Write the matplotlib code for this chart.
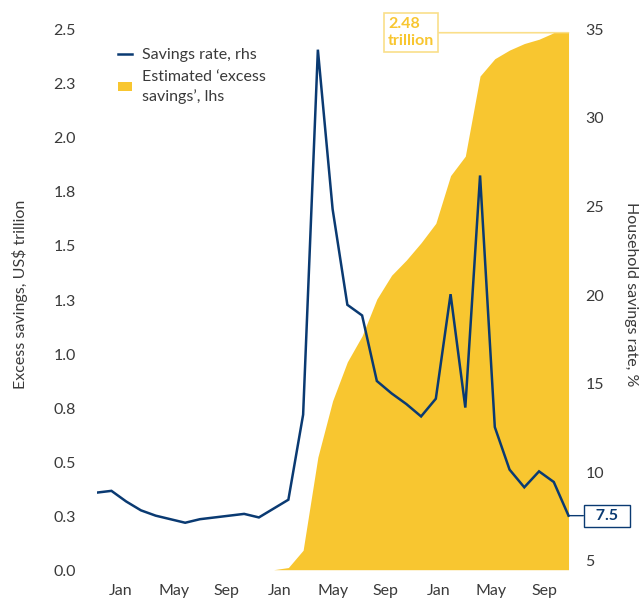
import numpy as np
import pandas as pd
import matplotlib
matplotlib.use("Agg")
import matplotlib.pyplot as plt
from matplotlib.lines import Line2D
from matplotlib.patches import Patch
from matplotlib.transforms import ScaledTranslation

plt.rcParams['font.family'] = ['Lato', 'DejaVu Sans']

# Monthly data, Jan 2019 - Sep 2021
months = pd.date_range("2019-01-01", "2021-09-01", freq="MS")

# Household savings rate, % (right axis)
savings_rate = [8.8, 8.9, 8.3, 7.8, 7.5, 7.3, 7.1, 7.3, 7.4, 7.5, 7.6, 7.4,
                7.9, 8.4, 13.2, 33.8, 24.8, 19.4, 18.8, 15.1, 14.4, 13.8, 13.1, 14.1,
                20.0, 13.6, 26.7, 12.5, 10.1, 9.1, 10.0, 9.4, 7.5]

# Estimated cumulative 'excess savings', US$ trillion (left axis), from Jan 2020
excess_start = "2020-01-01"
excess_savings = [0.0, 0.01, 0.09, 0.52, 0.78, 0.96, 1.08, 1.25, 1.36, 1.43, 1.51, 1.60,
                  1.82, 1.91, 2.28, 2.36, 2.40, 2.43, 2.45, 2.48, 2.48]

left_ticks = [0.0, 0.25, 0.5, 0.75, 1.0, 1.25, 1.5, 1.75, 2.0, 2.25, 2.5]
left_tick_labels = ["0.0", "0.3", "0.5", "0.8", "1.0", "1.3", "1.5", "1.8", "2.0", "2.3", "2.5"]
right_ticks = [5, 10, 15, 20, 25, 30, 35]
x_tick_labels = ["Jan", "May", "Sep", "Jan", "May", "Sep", "Jan", "May", "Sep"]

YELLOW = "#F8C630"
NAVY = "#0A3A72"
TEXT = "#3A3A3A"
FS = 11.5

x = np.arange(len(months))
x_ex = x[list(months).index(pd.Timestamp(excess_start)):]

fig = plt.figure(figsize=(6.42, 5.98), dpi=100)
W, H = 642, 598
ax = fig.add_axes([96.7 / W, 1 - 569.7 / H, (570.0 - 96.7) / W, (569.7 - 28.4) / H])
ax2 = ax.twinx()

# Excess savings area
ax.fill_between(x_ex, 0, excess_savings, color=YELLOW, lw=0, zorder=2)
ax.set_ylim(0, 2.5)
ax.set_xlim(x[0], x[-1] + 0.1)
ax.set_yticks(left_ticks)
ax.set_yticklabels(left_tick_labels)

# Savings rate line
ax2.plot(x, savings_rate, color=NAVY, lw=1.8, zorder=3, solid_joinstyle="miter")
ax2.set_ylim(4.45, 35)
ax2.set_yticks(right_ticks)

# Month labels spread evenly across the axis width
n_lab = len(x_tick_labels)
span = x[-1] - x[0]
tick_pos = x[0] + span / 2 + (np.arange(n_lab) - (n_lab - 1) / 2) * span * 1.01 / n_lab
ax.set_xticks(tick_pos)
ax.set_xticklabels(x_tick_labels)

for a in (ax, ax2):
    for s in a.spines.values():
        s.set_visible(False)
ax.tick_params(axis="y", length=0, pad=15, labelsize=FS, labelcolor=TEXT)
ax.tick_params(axis="x", length=0, pad=10, labelsize=FS, labelcolor=TEXT)
ax2.tick_params(axis="y", length=0, pad=11, labelsize=FS, labelcolor=TEXT)

# Nudge value labels slightly below their gridline positions
nudge = ScaledTranslation(0, -2.5 / 100, fig.dpi_scale_trans)
for lab in ax.get_yticklabels() + ax2.get_yticklabels():
    lab.set_verticalalignment("center")
    lab.set_transform(lab.get_transform() + nudge)

fig.text(20 / W, 1 - 294 / H, "Excess savings, US$ trillion", rotation=90,
         ha="center", va="center", fontsize=FS, color=TEXT)
fig.text(631 / W, 1 - 294 / H, "Household savings rate, %", rotation=270,
         ha="center", va="center", fontsize=FS, color=TEXT)

# Latest value call-outs
ax.annotate("2.48\ntrillion", xy=(x_ex[-1], excess_savings[-1]),
            xytext=(19.75, excess_savings[-1]), textcoords="data",
            ha="left", va="center", fontsize=FS, fontweight="bold", color=YELLOW,
            linespacing=1.25, annotation_clip=False, zorder=1,
            bbox=dict(boxstyle="square,pad=0.25", fc="white", ec="#FADF8A", lw=1.2),
            arrowprops=dict(arrowstyle="-", color="#FADF8A", lw=1.2,
                            shrinkA=0, shrinkB=0))

ax2.annotate("  7.5  ", xy=(x[-1], savings_rate[-1]),
             xytext=(27.5, 0), textcoords="offset points",
             ha="center", va="center", fontsize=FS, fontweight="bold", color=NAVY,
             annotation_clip=False, zorder=4,
             bbox=dict(boxstyle="square,pad=0.25", fc="white", ec=NAVY, lw=1.0),
             arrowprops=dict(arrowstyle="-", color=NAVY, lw=1.0,
                             shrinkA=0, shrinkB=0))

handles = [Line2D([0], [0], color=NAVY, lw=1.8),
           Patch(facecolor=YELLOW, edgecolor="none")]
labels = ["Savings rate, rhs", "Estimated \u2018excess\nsavings\u2019, lhs"]
leg = fig.legend(handles, labels, loc="upper left", bbox_to_anchor=(118 / W, 1 - 48 / H),
                 frameon=False, fontsize=FS, handlelength=0.9, handleheight=0.45,
                 handletextpad=0.6, labelspacing=0.5, borderpad=0, borderaxespad=0)
for t in leg.get_texts():
    t.set_color(TEXT)
    t.set_linespacing(1.4)

fig.savefig("out.png", dpi=100)
